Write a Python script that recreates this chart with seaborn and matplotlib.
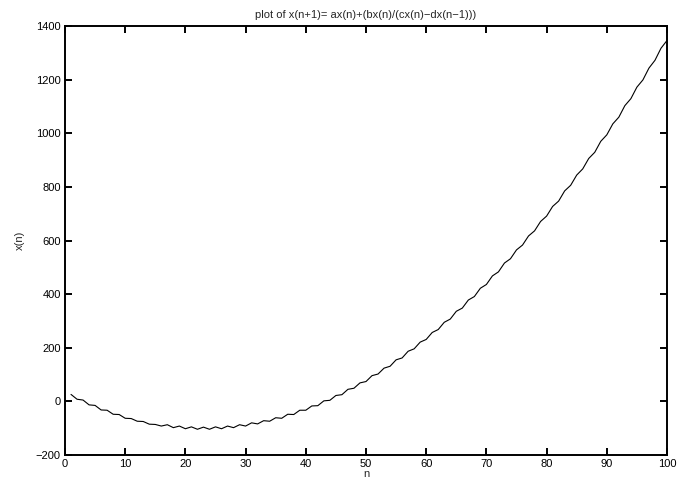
import numpy as np
import pandas as pd
import seaborn as sns
import matplotlib.pyplot as plt

# values, n = 1..100
n = list(range(1, 101))
x_n = [
    26, 8, 5, -13, -15, -32, -33, -48, -49, -63,
    -64, -74, -75, -85, -86, -92, -87, -98, -92, -102,
    -95, -104, -96, -104, -95, -102, -92, -98, -87, -92,
    -80, -84, -72, -74, -61, -63, -48, -49, -33, -33,
    -17, -16, 2, 4, 22, 25, 45, 49, 69, 74,
    96, 102, 124, 131, 155, 162, 187, 196, 221, 231,
    257, 268, 295, 307, 336, 348, 378, 391, 422, 436,
    468, 483, 516, 532, 565, 583, 617, 636, 671, 691,
    727, 747, 785, 806, 844, 867, 906, 929, 970, 994,
    1035, 1060, 1103, 1129, 1172, 1199, 1243, 1272, 1317, 1346,
]
x_ticks = list(range(0, 101, 10))
y_ticks = list(range(-200, 1401, 200))

df = pd.DataFrame({"n": n, "x": x_n})

sns.set_style("ticks")
plt.rcParams["font.family"] = ["Liberation Sans", "DejaVu Sans"]

fig = plt.figure(figsize=(6.82, 4.88), dpi=100)
ax = fig.add_axes([0.0953, 0.0676, 0.8827, 0.8791])

sns.lineplot(data=df, x="n", y="x", color="black", linewidth=0.8, ax=ax)

ax.set_xlim(0, 100)
ax.set_ylim(-200, 1400)
ax.set_xticks(x_ticks)
ax.set_yticks(y_ticks)
ax.set_title("plot of x(n+1)= ax(n)+(bx(n)/(cx(n)\u2212dx(n\u22121)))", fontsize=8, pad=6)
ax.set_xlabel("n", fontsize=8, labelpad=0)
ax.set_ylabel("x(n)", fontsize=8, labelpad=8)

for s in ax.spines.values():
    s.set_visible(True)
    s.set_linewidth(1.4)
    s.set_color("black")
ax.tick_params(direction="in", length=5, width=1.4, labelsize=8,
               top=True, right=True, colors="black", pad=3)
ax.grid(False)

fig.savefig("out.png", dpi=100, facecolor="white")
